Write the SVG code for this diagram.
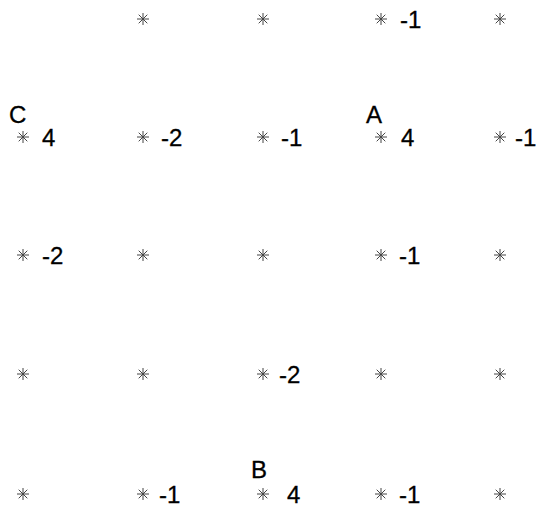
<svg xmlns="http://www.w3.org/2000/svg" xmlns:xlink="http://www.w3.org/1999/xlink" width="547" height="511" viewBox="0 0 547 511">
<defs>
<style>
.t{font-family:"Liberation Sans",Arial,sans-serif;font-size:24px;fill:#000;stroke:#000;stroke-width:0.3}
.s{stroke:#444;stroke-width:1;fill:none}
</style>
<path id="st" class="s" d="M-6,0H6M0,-6V6M-4.3,-4.3L4.3,4.3M-4.3,4.3L4.3,-4.3"/>
</defs>
<rect width="547" height="511" fill="#fff"/>
<g id="row0">
<use xlink:href="#st" x="143" y="19"/>
<use xlink:href="#st" x="263" y="19"/>
<use xlink:href="#st" x="381" y="19"/>
<text class="t" x="400" y="28">-1</text>
<use xlink:href="#st" x="500" y="19"/>
</g>
<g id="row1">
<text class="t" x="9" y="123">C</text>
<use xlink:href="#st" x="23" y="137"/>
<text class="t" x="42" y="146">4</text>
<use xlink:href="#st" x="143" y="137"/>
<text class="t" x="161" y="146">-2</text>
<use xlink:href="#st" x="263" y="137"/>
<text class="t" x="281" y="146">-1</text>
<text class="t" x="366" y="123">A</text>
<use xlink:href="#st" x="381" y="137"/>
<text class="t" x="401" y="146">4</text>
<use xlink:href="#st" x="500" y="137"/>
<text class="t" x="515" y="146">-1</text>
</g>
<g id="row2">
<use xlink:href="#st" x="23" y="255"/>
<text class="t" x="42" y="264">-2</text>
<use xlink:href="#st" x="143" y="255"/>
<use xlink:href="#st" x="263" y="255"/>
<use xlink:href="#st" x="381" y="255"/>
<text class="t" x="399" y="264">-1</text>
<use xlink:href="#st" x="500" y="255"/>
</g>
<g id="row3">
<use xlink:href="#st" x="23" y="374"/>
<use xlink:href="#st" x="143" y="374"/>
<use xlink:href="#st" x="263" y="374"/>
<text class="t" x="279" y="383">-2</text>
<use xlink:href="#st" x="381" y="374"/>
<use xlink:href="#st" x="500" y="374"/>
</g>
<g id="row4">
<use xlink:href="#st" x="23" y="494"/>
<use xlink:href="#st" x="143" y="494"/>
<text class="t" x="159" y="503">-1</text>
<text class="t" x="251" y="478">B</text>
<use xlink:href="#st" x="263" y="494"/>
<text class="t" x="287" y="503">4</text>
<use xlink:href="#st" x="381" y="494"/>
<text class="t" x="399" y="503">-1</text>
<use xlink:href="#st" x="500" y="494"/>
</g>
</svg>
